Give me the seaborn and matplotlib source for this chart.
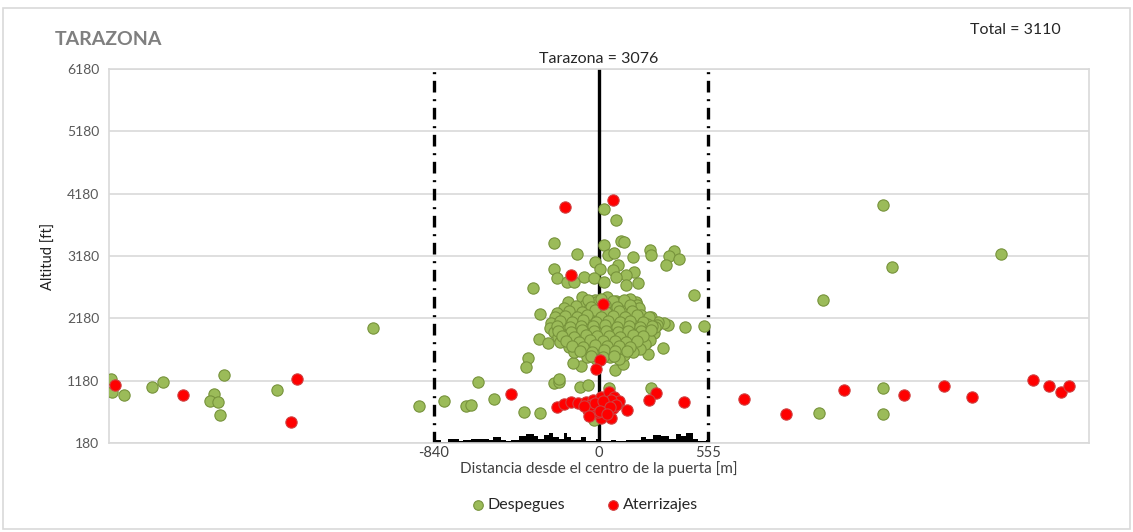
"""
Dispersión de despegues y aterrizajes - Tarazona
"""

import matplotlib
matplotlib.use("Agg")
import matplotlib.pyplot as plt
import seaborn as sns
import pandas as pd
from matplotlib.patches import Rectangle

# ---- Despegues (verde): distancia [m], altitud [ft] ----
desp_x = [
    -2482, -2477, -2416, -2274, -2218, -1954, -1975, -1934, -1924, -1904,
    -1634, -1147, -914, -787, -675, -650, -614, -533, -381, -299,
    -228, -203, -96, -56, -25, 51, 96, -40, 40, 264,
    1117, 1442, 1442, 1442, 1487, 1137, 2041,
    25, 86, -228, -112, 25, 112, 127, 46, 76, 173,
    259, 264, 381, 355, 406, 340, -20, -228, -213, -335,
    5, 96, 71, 178, 137, 198, 482, -162, -127, -76,
    -25, 25, 86, 137, -305, -259, -299, -228, -360, -371,
    -203, -91, -132, 81, 122, 249, 239, 325, 279, 350,
    330, 264, 299, 188, 437, 533,
    # nube densa
    -85, -22, 41, 88, 157,
    -158, -70, -14, 62, 113, 191,
    -179, -126, -48, 9, 77, 124, 202,
    -211, -139, -92, -19, 46, 93, 167, 214,
    -226, -177, -98, -51, 22, 68, 141, 188, 256,
    -244, -173, -127, -53, 7, 54, 127, 173, 246, 296,
    -247, -196, -124, -77, -4, 43, 116, 164, 237, 284,
    -229, -182, -108, -61, 12, 58, 131, 178, 251,
    -208, -157, -83, -37, 36, 84, 144, 203, 259,
    -196, -123, -72, 2, 48, 121, 168, 236,
    -153, -107, -33, 14, 87, 133, 207,
    -126, -54, 7, 53, 127, 174,
    -63, -17, 57, 103,
    # segunda capa
    -55, 8, 70, 126,
    -118, -43, 31, 93, 158,
    -150, -86, -21, 38, 104, 166,
    -174, -112, -59, 11, 72, 131, 194,
    -198, -136, -79, -14, 47, 106, 159, 221,
    -214, -148, -93, -31, 29, 89, 151, 209, 268,
    -206, -143, -88, -27, 34, 97, 149, 212, 262,
    -188, -129, -67, -8, 53, 109, 171, 226,
    -166, -104, -46, 18, 79, 138, 193,
    -138, -79, -18, 41, 101, 157,
    -97, -38, 24, 81, 141,
    -41, 19, 76,
]
desp_y = [
    1207, 998, 950, 1078, 1158, 966, 854, 838, 629, 1271,
    1030, 2025, 773, 854, 773, 790, 1158, 886, 677, 661,
    1142, 1158, 1078, 1110, 549, 1062, 822, 700, 900, 1062,
    661, 1062, 645, 3998, 3003, 2474, 3212,
    3933, 3757, 3388, 3212, 3356, 3420, 3404, 3196, 3228, 3163,
    3276, 3196, 3260, 3180, 3131, 3035, 3083, 2971, 2827, 2666,
    2971, 3035, 2955, 2923, 2875, 2746, 2554, 2762, 2762, 2843,
    2827, 2762, 2843, 2714, 1848, 1784, 2249, 1960, 1543, 1399,
    1207, 1415, 1463, 1351, 1447, 1608, 1784, 1704, 1944, 2073,
    2105, 2201, 2121, 2442, 2041, 2057,
    2517, 2478, 2531, 2466, 2498,
    2438, 2397, 2451, 2393, 2437, 2402,
    2356, 2318, 2367, 2322, 2361, 2311, 2349,
    2274, 2238, 2283, 2246, 2232, 2288, 2252, 2241,
    2197, 2158, 2203, 2168, 2189, 2152, 2207, 2161, 2196,
    2112, 2098, 2083, 2116, 2079, 2121, 2091, 2107, 2086, 2078,
    2031, 2042, 2003, 2036, 1998, 2044, 2009, 2027, 2014, 2046,
    1958, 1923, 1962, 1928, 1967, 1918, 1956, 1924, 1961,
    1877, 1842, 1881, 1848, 1839, 1884, 1843, 1876, 1838,
    1797, 1763, 1801, 1758, 1796, 1763, 1802, 1768,
    1718, 1683, 1722, 1688, 1679, 1717, 1683,
    1638, 1603, 1642, 1607, 1598, 1637,
    1557, 1523, 1562, 1528,
    2473, 2492, 2461, 2484,
    2388, 2372, 2403, 2366, 2391,
    2306, 2288, 2313, 2281, 2302, 2294,
    2227, 2208, 2232, 2201, 2219, 2206, 2231,
    2143, 2127, 2151, 2118, 2146, 2124, 2139, 2128,
    2062, 2048, 2067, 2052, 2071, 2043, 2064, 2049, 2058,
    1983, 1968, 1989, 1972, 1986, 1962, 1981, 1973, 1988,
    1906, 1889, 1911, 1893, 1902, 1886, 1909, 1894,
    1823, 1807, 1828, 1812, 1824, 1806, 1819,
    1744, 1727, 1749, 1731, 1742, 1726,
    1663, 1648, 1668, 1651, 1659,
    1583, 1568, 1579,
]

# ---- Aterrizajes (rojo) ----
ater_x = [
    -2457, -2112, -1533, -1563, -447, -173, 71, -142, 20, 5, -15,
    -213, -178, -142, -107, -66, -30, -15, 10, 10, 51, 76, 102, 142,
    61, 10, -41, -56, 36, 71, -5, -25, 46, 25, -40, 60, 86,
    -20, 20, 55, -75, 5, 40, -50,
    289, 254, 431, 736,
    949, 1244, 1548, 1751, 1893, 2203, 2289, 2350, 2386,
]
ater_y = [
    1110, 950, 1207, 517, 966, 3965, 4078, 2875, 2410, 1511, 1367,
    757, 806, 838, 822, 838, 870, 757, 773, 918, 998, 918, 854, 709,
    581, 581, 661, 709, 677, 741, 677, 741, 806, 725, 790, 870, 790,
    820, 850, 760, 770, 700, 640, 620,
    982, 870, 838, 886,
    645, 1030, 950, 1094, 918, 1191, 1094, 998, 1094,
]

# ---- Perfil del terreno bajo la puerta ----
terrain_x = [-840, -802, -766, -711, -690, -650, -558, -538, -497, -472,
             -447, -406, -371, -330, -310, -279, -254, -233, -203, -178,
             -162, -142, -91, -66, -15, 10, 61, 86, 137, 213,
             239, 274, 315, 355, 391, 416, 442, 477, 503, 543, 555]
terrain_alt = [236, 204, 252, 220, 236, 252, 236, 276, 236, 220,
               236, 292, 324, 292, 252, 308, 340, 276, 252, 340,
               276, 236, 276, 220, 252, 220, 236, 220, 236, 276,
               252, 308, 292, 252, 324, 292, 340, 252, 220, 236, 236]

y_ticks = [180, 1180, 2180, 3180, 4180, 5180, 6180]
x_ticks = [-840, 0, 555]
gate_left, gate_right = -840, 555

GREEN, GREEN_EDGE = "#9bbb59", "#77933c"
RED, RED_EDGE = "#ff0000", "#d04040"
GRID = "#d9d9d9"

sns.set_style("white")
plt.rcParams["font.family"] = ["Lato", "DejaVu Sans"]

fig = plt.figure(figsize=(11.33, 5.32), dpi=100)
ax = fig.add_axes([0.0962, 0.167, 0.865, 0.703])

df_d = pd.DataFrame({"x": desp_x, "y": desp_y})
df_a = pd.DataFrame({"x": ater_x, "y": ater_y})

ax.fill_between(terrain_x, 180, terrain_alt, step="post", color="black",
                lw=0, zorder=2)
dashdot = (0, (3.5, 2, 0.6, 2))
ax.plot([gate_left, gate_left], [180, 6180], color="black", lw=2.4,
        ls=dashdot, zorder=2)
ax.plot([gate_right, gate_right], [180, 6180], color="black", lw=2.4,
        ls=dashdot, zorder=2)
ax.plot([0, 0], [180, 6180], color="black", lw=2.4, zorder=2)

sns.scatterplot(data=df_d, x="x", y="y", ax=ax, color=GREEN,
                edgecolor=GREEN_EDGE, linewidth=0.8, s=66, zorder=3,
                label="Despegues")
sns.scatterplot(data=df_a, x="x", y="y", ax=ax, color=RED,
                edgecolor=RED_EDGE, linewidth=0.8, s=66, zorder=4,
                label="Aterrizajes")

ax.set_xlim(-2490, 2490)
ax.set_ylim(180, 6180)
ax.set_yticks(y_ticks)
ax.set_xticks(x_ticks)
ax.set_xticklabels([str(v) for v in x_ticks])
ax.yaxis.grid(True, color=GRID, lw=1.2)
ax.set_axisbelow(True)
ax.tick_params(axis="both", length=0, labelsize=10, labelcolor="#595959",
               pad=7)
ax.tick_params(axis="x", labelcolor="#404040", labelsize=10.5, pad=2)
for sp in ax.spines.values():
    sp.set_color(GRID)
    sp.set_linewidth(1.2)

ax.set_xlabel("Distancia desde el centro de la puerta [m]", fontsize=11,
              color="#404040", labelpad=1)
ax.set_ylabel("Altitud [ft]", fontsize=10.5, color="#202020", labelpad=8)

fig.text(0.048, 0.925, "TARAZONA", fontsize=14, fontweight="bold",
         color="#7f7f7f", va="center")
fig.text(0.896, 0.943, "Total = 3110", fontsize=11.5, color="#262626",
         va="center", ha="center")
ax.text(0, 6230, "Tarazona = 3076", fontsize=11.5, color="#262626",
        ha="center", va="bottom")

handles, labels = ax.get_legend_handles_labels()
ax.legend(handles, labels, loc="center", bbox_to_anchor=(0.516, 0.05),
          bbox_transform=fig.transFigure, ncol=2, frameon=False,
          fontsize=11.5, handlelength=0.8, handletextpad=0.2,
          columnspacing=2.6, markerscale=0.85, labelcolor="#262626")

fig.patches.append(Rectangle((0.003, 0.005), 0.994, 0.98,
                             transform=fig.transFigure, fill=False,
                             edgecolor=GRID, lw=1.2))

fig.savefig("out.png", dpi=100)
plt.close(fig)
